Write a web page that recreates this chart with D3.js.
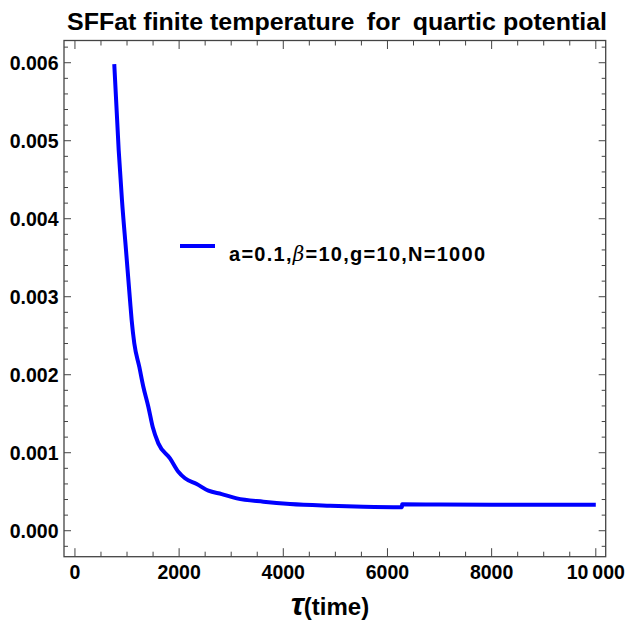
<!DOCTYPE html>
<html>
<head>
<meta charset="utf-8">
<script src="https://cdn.jsdelivr.net/npm/d3@7/dist/d3.min.js"></script>
<style>
  body { margin: 0; background: #fff; }
  svg { display: block; }
  text { font-family: "Liberation Sans", Arial, sans-serif; font-weight: bold; fill: #000; }
</style>
</head>
<body>
<div id="chart"></div>
<script>
// valeurs
const tau = [755, 840, 903, 980, 1057, 1089, 1140, 1236, 1313, 1409, 1492, 1601, 1825, 1985, 2113,
  2338, 2562, 2818, 3106, 3618, 4131, 4899, 5539, 6278, 6282, 7000, 8000, 9000, 10000];
const sff = [0.005983, 0.00488, 0.004238, 0.0036, 0.002958, 0.0027, 0.0024, 0.0021, 0.001846, 0.00159,
  0.001333, 0.00112, 0.000928, 0.000756, 0.000672, 0.000599, 0.000513, 0.00047, 0.000415, 0.000372,
  0.000342, 0.00032, 0.000308, 0.000302, 0.000338, 0.000336, 0.000334, 0.000333, 0.000332];
const xTicks = [0, 2000, 4000, 6000, 8000, 10000];
const xTickLabels = ['0', '2000', '4000', '6000', '8000', '10\u2009000'];
const yTicks = [0, 0.001, 0.002, 0.003, 0.004, 0.005, 0.006];
const yTickLabels = ['0.000', '0.001', '0.002', '0.003', '0.004', '0.005', '0.006'];

const W = 625, H = 630;
const plotLeft = 64, plotRight = 605.7, plotTop = 40.5, plotBottom = 556.7;

const svg = d3.select('#chart').append('svg')
  .attr('width', W)
  .attr('height', H);

const x = d3.scaleLinear().domain([-210, 10190]).range([plotLeft, plotRight]);
const y = d3.scaleLinear().domain([-0.000333, 0.006285]).range([plotBottom, plotTop]);

// Titre
svg.append('text')
  .attr('x', 67)
  .attr('y', 30)
  .attr('textLength', 540)
  .attr('lengthAdjust', 'spacingAndGlyphs')
  .style('font-size', '23px')
  .text('SFFat finite temperature\u2002for\u2002quartic potential');

// Graduations mineures
const xMinor = d3.range(0, 10001, 500).filter(v => v % 2000 !== 0);
const yMinor = d3.range(-2, 63, 2).filter(v => v % 10 !== 0).map(v => v / 10000);

const frameColor = '#444';
const g = svg.append('g').attr('class', 'frame');

function tickLines(vals, len, isX) {
  vals.forEach(v => {
    if (isX) {
      g.append('line').attr('x1', x(v)).attr('x2', x(v)).attr('y1', plotBottom).attr('y2', plotBottom - len)
        .attr('stroke', frameColor).attr('stroke-width', 1);
      g.append('line').attr('x1', x(v)).attr('x2', x(v)).attr('y1', plotTop).attr('y2', plotTop + len)
        .attr('stroke', frameColor).attr('stroke-width', 1);
    } else {
      g.append('line').attr('y1', y(v)).attr('y2', y(v)).attr('x1', plotLeft).attr('x2', plotLeft + len)
        .attr('stroke', frameColor).attr('stroke-width', 1);
      g.append('line').attr('y1', y(v)).attr('y2', y(v)).attr('x1', plotRight).attr('x2', plotRight - len)
        .attr('stroke', frameColor).attr('stroke-width', 1);
    }
  });
}
tickLines(xTicks, 8.5, true);
tickLines(xMinor, 5, true);
tickLines(yTicks, 7, false);
tickLines(yMinor, 4, false);

g.append('rect')
  .attr('x', plotLeft).attr('y', plotTop)
  .attr('width', plotRight - plotLeft).attr('height', plotBottom - plotTop)
  .attr('fill', 'none').attr('stroke', frameColor).attr('stroke-width', 1.3);

// Etiquettes des axes
svg.append('g').selectAll('text')
  .data(xTicks)
  .enter().append('text')
  .attr('x', d => x(d))
  .attr('y', 579)
  .attr('text-anchor', 'middle')
  .style('font-size', '19.5px')
  .text((d, i) => xTickLabels[i]);

svg.append('g').selectAll('text')
  .data(yTicks)
  .enter().append('text')
  .attr('x', 58.5)
  .attr('y', d => y(d) + 7)
  .attr('text-anchor', 'end')
  .style('font-size', '19.5px')
  .text((d, i) => yTickLabels[i]);

// Titre de l'axe x
const xl = svg.append('text')
  .attr('x', 330)
  .attr('y', 615)
  .attr('text-anchor', 'middle');
xl.append('tspan').style('font-size', '32px').style('font-style', 'italic').text('τ');
xl.append('tspan').style('font-size', '24px').text('(time)');

// Courbe
const pts = tau.map((t, i) => [t, sff[i]]);
const line = d3.line().curve(d3.curveMonotoneX).x(d => x(d[0])).y(d => y(d[1]));
svg.append('path')
  .datum(pts)
  .attr('d', line)
  .attr('fill', 'none')
  .attr('stroke', '#0000ff')
  .attr('stroke-width', 4)
  .attr('stroke-linejoin', 'round');

// Légende
svg.append('line')
  .attr('x1', 180).attr('x2', 215)
  .attr('y1', 246).attr('y2', 246)
  .attr('stroke', '#0000ff').attr('stroke-width', 4);
const lt = svg.append('text')
  .attr('x', 229)
  .attr('y', 261)
  .attr('textLength', 256)
  .attr('lengthAdjust', 'spacing')
  .style('font-size', '20px');
lt.append('tspan').text('a=0.1,');
lt.append('tspan').style('font-style', 'italic').style('font-weight', 'normal').style('font-family', '"DejaVu Serif", serif').text('β');
lt.append('tspan').text('=10,g=10,N=1000');
</script>
</body>
</html>
